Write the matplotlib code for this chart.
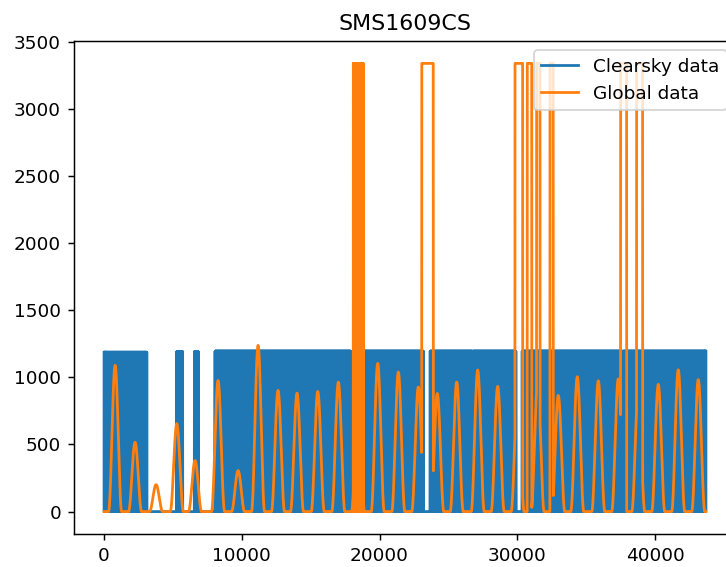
import numpy as np
import matplotlib
matplotlib.use('Agg')
import matplotlib.pyplot as plt

# eje de tiempo en minutos
paso = 10
fin = 43700

# bloques con datos clearsky: inicio, fin y tope
cs_inicio = [0, 5280, 6560, 8060, 18820, 23670, 26800, 30350, 37700]
cs_fin = [3100, 5710, 6850, 17910, 23180, 26740, 29900, 37620, 43700]
cs_tope = [1188, 1192, 1192, 1196, 1196, 1196, 1196, 1196, 1196]

# picos diarios de la global (centro y altura)
pico_centro = [800, 2250, 3775, 5280, 6605, 8275, 9730, 11180, 12630, 14010,
               15515, 17010, 18440, 19870, 21365, 22815, 24195, 25605, 27130,
               28580, 30030, 31480, 32980, 34360, 35885, 37335, 38790, 40240,
               41690, 43145]
pico_alto = [1090, 517, 201, 656, 380, 977, 306, 1239, 903, 883,
             895, 965, 900, 1104, 1040, 928, 880, 965, 1055,
             933, 900, 950, 866, 1005, 975, 988, 900, 948,
             1057, 983]
ancho_dia = 950

# tramos saturados de la global
sat_inicio = [18100, 23065, 29840, 30730, 31410, 32380, 37510, 38670]
sat_fin = [18820, 23905, 30395, 31050, 31650, 32615, 37945, 39105]
sat_relleno = [True, False, False, False, False, False, False, False]
sat_valor = 3340

t = np.arange(0, fin + paso, paso)
idx = np.arange(len(t))

clearsky = np.zeros(len(t))
for a, b, tope in zip(cs_inicio, cs_fin, cs_tope):
    m = (t >= a) & (t <= b)
    clearsky[m] = np.where(idx[m] % 2 == 0, tope, 0)

glob = np.zeros(len(t))
for c, h in zip(pico_centro, pico_alto):
    d = t - c
    m = np.abs(d) < ancho_dia / 2
    glob[m] += h * np.cos(np.pi * d[m] / ancho_dia) ** 2
for a, b, rel in zip(sat_inicio, sat_fin, sat_relleno):
    m = (t >= a) & (t <= b)
    if rel:
        glob[m] = np.where(idx[m] % 2 == 0, sat_valor, 0)
    else:
        glob[m] = sat_valor

dpi = 133
fig = plt.figure(figsize=(726 / dpi, 567 / dpi), dpi=dpi)
ax = fig.add_axes([74 / 726, 1 - 534 / 567, (736 - 74) / 726, (534 - 41) / 567])
ax.plot(t, clearsky, label='Clearsky data')
ax.plot(t, glob, label='Global data')
ax.set_title('SMS1609CS')
ax.legend(loc='upper right')
fig.savefig('out.png', dpi=dpi)
